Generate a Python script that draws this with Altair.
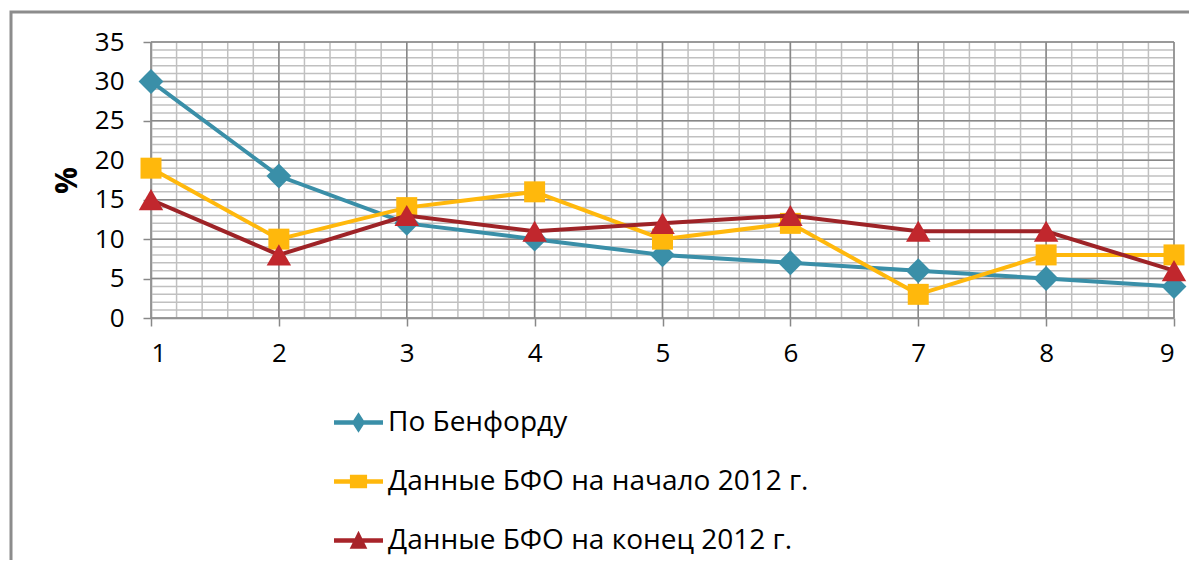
import altair as alt
import pandas as pd

# ---- data ----
x_vals = [1, 2, 3, 4, 5, 6, 7, 8, 9]
benford = [30, 18, 12, 10, 8, 7, 6, 5, 4]
start2012 = [19, 10, 14, 16, 10, 12, 3, 8, 8]
end2012 = [15, 8, 13, 11, 12, 13, 11, 11, 6]
series_names = ["По Бенфорду", "Данные БФО на начало 2012 г.", "Данные БФО на конец 2012 г."]
series_values = [benford, start2012, end2012]

y_ticks = [0, 5, 10, 15, 20, 25, 30, 35]
x_ticks = x_vals
minor_y = list(range(0, 36))
minor_x = [round(1 + i * 0.2, 2) for i in range(41)]

# ---- styles ----
line_colors = ["#3A8FA8", "#FFB80C", "#9E2327"]
marker_colors = ["#3A8FA8", "#FFB80C", "#C1272D"]
legend_colors = ["#3A8FA8", "#FFB80C", "#A8242A"]
marker_shapes = ["diamond", "square", "triangle-up"]
marker_sizes = [620, 440, 600]
bar = "M-1,-0.09L1,-0.09L1,0.09L-1,0.09Z"
legend_paths = [
    bar + "M0,-0.42L0.27,0L0,0.42L-0.27,0Z",
    bar + "M-0.35,-0.28L0.35,-0.28L0.35,0.28L-0.35,0.28Z",
    bar + "M0,-0.4L0.36,0.34L-0.36,0.34Z",
]
FONT = "Open Sans"
MAJOR = "#888888"
MINOR = "#C0C0C0"

xscale = alt.Scale(domain=[1, 9], nice=False, zero=False)
yscale = alt.Scale(domain=[0, 35], nice=False)
xaxis = alt.Axis(values=x_ticks, format="d", title=None, grid=False, tickSize=8,
                 tickColor=MAJOR, tickWidth=1.5, domainColor=MAJOR, domainWidth=1.5,
                 labelFont=FONT, labelFontSize=26, labelColor="black", labelPadding=14)
yaxis = alt.Axis(values=y_ticks, title="%", grid=False, tickSize=8,
                 tickColor=MAJOR, tickWidth=1.5, domainColor=MAJOR, domainWidth=1.5,
                 labelFont=FONT, labelFontSize=26, labelColor="black", labelPadding=19,
                 titleFont=FONT, titleFontSize=30, titleFontWeight="bold", titleColor="black",
                 titleX=-84, titleY=138, titleAngle=-90, titleAlign="center", titleBaseline="middle")


def X(f):
    return alt.X(f, type="quantitative", scale=xscale, axis=xaxis)


def Y(f):
    return alt.Y(f, type="quantitative", scale=yscale, axis=yaxis)


layers = []

# outer frame
frame = alt.Chart(pd.DataFrame({"a": [0]})).mark_rect(
    fillOpacity=0, stroke="#8C8C8C", strokeWidth=3
).encode(x=alt.value(-140), x2=alt.value(1200), y=alt.value(-30), y2=alt.value(700))
layers.append(frame)

# grid
layers.append(alt.Chart(pd.DataFrame({"v": minor_x})).mark_rule(color=MINOR, strokeWidth=1.5).encode(x=X("v")))
layers.append(alt.Chart(pd.DataFrame({"v": minor_y})).mark_rule(color=MINOR, strokeWidth=1.5).encode(y=Y("v")))
layers.append(alt.Chart(pd.DataFrame({"v": x_ticks})).mark_rule(color=MAJOR, strokeWidth=1.5).encode(x=X("v")))
layers.append(alt.Chart(pd.DataFrame({"v": y_ticks})).mark_rule(color=MAJOR, strokeWidth=1.5).encode(y=Y("v")))

# series
for name, vals, lc, mc, shp, sz in zip(series_names, series_values, line_colors,
                                       marker_colors, marker_shapes, marker_sizes):
    df = pd.DataFrame({"x": x_vals, "y": vals, "series": name})
    layers.append(alt.Chart(df).mark_line(color=lc, strokeWidth=4).encode(x=X("x"), y=Y("y")))
    layers.append(alt.Chart(df).mark_point(filled=True, shape=shp, size=sz, color=mc,
                                           opacity=1, strokeWidth=0).encode(x=X("x"), y=Y("y")))

# legend (invisible marks, visible legend)
leg = alt.Legend(orient="none", legendX=183, legendY=356, title=None, symbolSize=2401,
                 labelFont=FONT, labelFontSize=28, labelColor="black", labelOffset=5,
                 rowPadding=20, symbolOpacity=1, symbolStrokeWidth=0, padding=0,
                 labelLimit=900, direction="vertical")
legend_df = pd.DataFrame({"series": series_names})
layers.append(alt.Chart(legend_df).mark_point(filled=True, opacity=0).encode(
    shape=alt.Shape("series:N", scale=alt.Scale(domain=series_names, range=legend_paths), legend=leg),
    color=alt.Color("series:N", scale=alt.Scale(domain=series_names, range=legend_colors), legend=leg),
))

chart = alt.layer(*layers).properties(
    width=1023, height=276,
    autosize=alt.AutoSizeParams(type="none"),
    padding={"left": 143, "top": 34, "right": 15, "bottom": 242},
    background="white",
).configure_view(stroke=None)

chart.save("out.html", embed_options={"renderer": "svg", "actions": False})
